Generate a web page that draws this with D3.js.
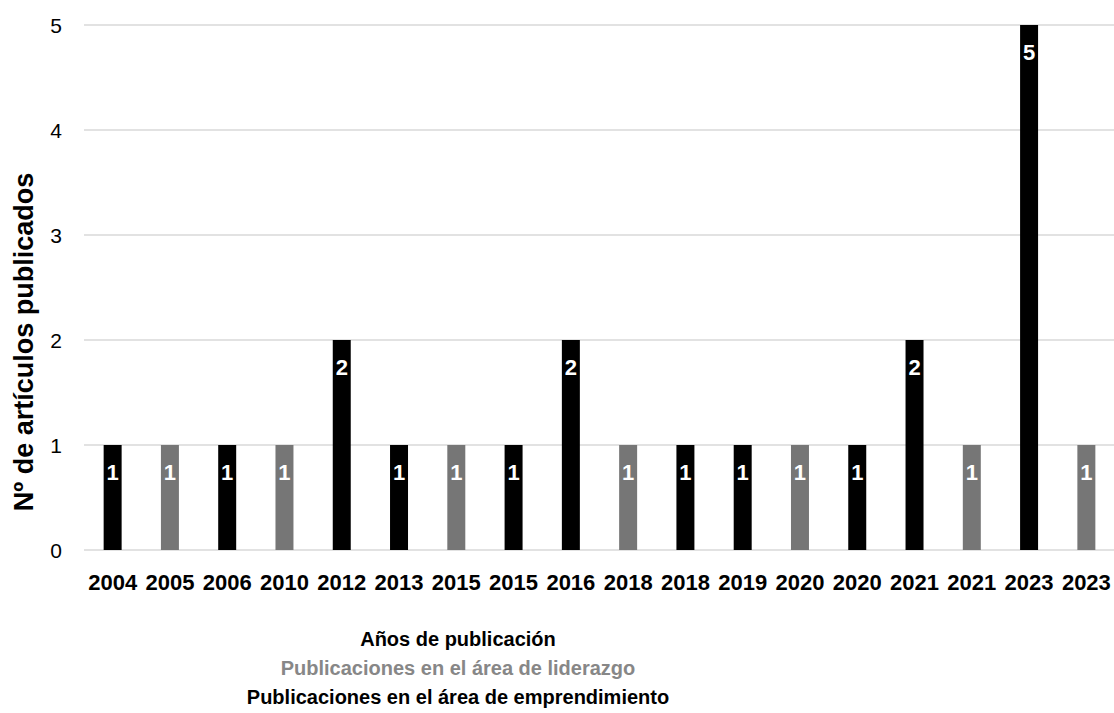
<!DOCTYPE html>
<html>
<head>
<meta charset="utf-8">
<script src="https://cdn.jsdelivr.net/npm/d3@7"></script>
<style>
  body { margin: 0; background: #fff; }
  text { font-family: "Liberation Sans", Arial, sans-serif; }
</style>
</head>
<body>
<svg id="chart" width="1114" height="713"></svg>
<script>
// años (hay años repetidos: uno por área)
var years = ["2004", "2005", "2006", "2010", "2012", "2013", "2015", "2015", "2016",
             "2018", "2018", "2019", "2020", "2020", "2021", "2021", "2023", "2023"];
// número de artículos por barra
var counts = [1, 1, 1, 1, 2, 1, 1, 1, 2, 1, 1, 1, 1, 1, 2, 1, 5, 1];
// área de cada barra: "e" = emprendimiento, "l" = liderazgo
var areas = ["e", "l", "e", "l", "e", "e", "l", "e", "e", "l", "e", "e", "l", "e", "e", "l", "e", "l"];
var yTicks = [0, 1, 2, 3, 4, 5];

var colors = { e: "#000000", l: "#767676" };

var svg = d3.select("#chart");

var x = d3.scaleBand()
  .domain(d3.range(years.length))
  .range([84, 1115])
  .paddingInner(0.686)
  .paddingOuter(0.343);

var y = d3.scaleLinear()
  .domain([0, 5])
  .range([550, 25]);

// líneas de cuadrícula
svg.append("g")
  .selectAll("line")
  .data(yTicks)
  .enter().append("line")
  .attr("x1", 84)
  .attr("x2", 1114)
  .attr("y1", function (d) { return y(d); })
  .attr("y2", function (d) { return y(d); })
  .attr("stroke", "#d9d9d9")
  .attr("stroke-width", 1.5);

// eje y
var yAxis = svg.append("g")
  .attr("transform", "translate(84,0)")
  .call(d3.axisLeft(y).tickValues(yTicks).tickSize(0).tickPadding(22).tickFormat(d3.format("d")));
yAxis.select(".domain").remove();
yAxis.selectAll("text")
  .attr("dy", "0.35em")
  .style("font-size", "21px")
  .style("fill", "#000");

// barras
svg.append("g")
  .selectAll("rect")
  .data(counts)
  .enter().append("rect")
  .attr("x", function (d, i) { return x(i); })
  .attr("y", function (d) { return y(d); })
  .attr("width", x.bandwidth())
  .attr("height", function (d) { return y(0) - y(d); })
  .attr("fill", function (d, i) { return colors[areas[i]]; });

// etiquetas de valor
svg.append("g")
  .selectAll("text")
  .data(counts)
  .enter().append("text")
  .attr("x", function (d, i) { return x(i) + x.bandwidth() / 2; })
  .attr("y", function (d) { return y(d) + 35; })
  .attr("text-anchor", "middle")
  .style("font-size", "22px")
  .style("font-weight", "bold")
  .style("fill", "#fff")
  .text(function (d) { return d; });

// eje x
var xAxis = svg.append("g")
  .attr("transform", "translate(0,550)")
  .call(d3.axisBottom(x).tickSize(0).tickPadding(0).tickFormat(function (i) { return years[i]; }));
xAxis.select(".domain").remove();
xAxis.selectAll("text")
  .attr("y", 40)
  .attr("dy", null)
  .style("font-size", "22px")
  .style("font-weight", "bold")
  .style("fill", "#000");

// título eje y
svg.append("text")
  .attr("transform", "translate(33,342) rotate(-90)")
  .attr("text-anchor", "middle")
  .style("font-size", "27px")
  .style("font-weight", "bold")
  .text("Nº de artículos publicados");

// título eje x y leyenda
var titles = [
  { t: "Años de publicación", c: "#000", y: 646 },
  { t: "Publicaciones en el área de liderazgo", c: "#878787", y: 675 },
  { t: "Publicaciones en el área de emprendimiento", c: "#000", y: 704 }
];
svg.append("g")
  .selectAll("text")
  .data(titles)
  .enter().append("text")
  .attr("x", 458)
  .attr("y", function (d) { return d.y; })
  .attr("text-anchor", "middle")
  .style("font-size", "20px")
  .style("font-weight", "bold")
  .style("fill", function (d) { return d.c; })
  .text(function (d) { return d.t; });
</script>
</body>
</html>
